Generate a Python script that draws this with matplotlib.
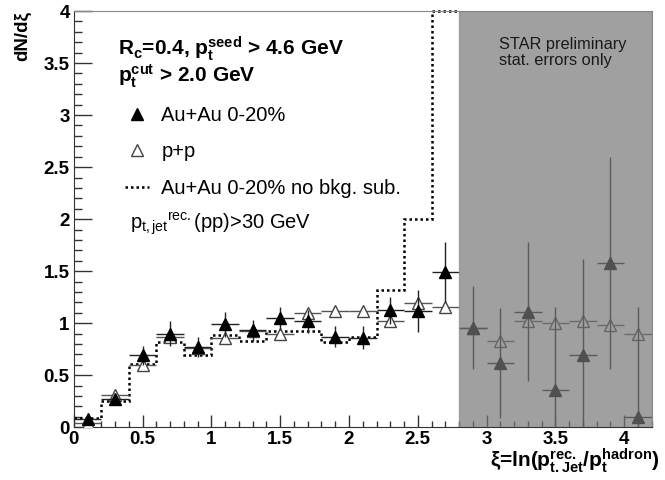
import numpy as np
import matplotlib.pyplot as plt
from matplotlib.ticker import MultipleLocator, FuncFormatter
from matplotlib.lines import Line2D

plt.rcParams['font.family'] = ['Liberation Sans', 'DejaVu Sans']
plt.rcParams['mathtext.fontset'] = 'custom'
plt.rcParams['mathtext.rm'] = 'Liberation Sans'
plt.rcParams['mathtext.bf'] = 'Liberation Sans:bold'
plt.rcParams['mathtext.it'] = 'Liberation Sans:italic'

# xi bin centres and half width
xi = [0.1, 0.3, 0.5, 0.7, 0.9, 1.1, 1.3, 1.5, 1.7, 1.9, 2.1,
      2.3, 2.5, 2.7, 2.9, 3.1, 3.3, 3.5, 3.7, 3.9, 4.1]
bin_half = 0.1

# Au+Au 0-20% (bkg. subtracted)
auau = [0.08, 0.27, 0.69, 0.90, 0.77, 0.99, 0.93, 1.045, 1.02, 0.87, 0.86,
        1.125, 1.115, 1.49, 0.955, 0.62, 1.11, 0.36, 0.69, 1.58, 0.10]
auau_err = [0.04, 0.04, 0.09, 0.12, 0.10, 0.12, 0.10, 0.11, 0.11, 0.10, 0.11,
            0.13, 0.20, 0.29, 0.40, 0.53, 0.67, 0.80, 0.93, 1.02, 1.06]

# p+p reference
pp = [0.04, 0.31, 0.60, 0.87, 0.76, 0.86, 0.92, 0.90, 1.10, 1.12, 1.12,
      1.02, 1.195, 1.16, 0.95, 0.83, 1.02, 1.00, 1.02, 0.98, 0.895]
pp_err = [0.02, 0.03, 0.03, 0.03, 0.03, 0.03, 0.03, 0.03, 0.03, 0.03, 0.03,
          0.03, 0.04, 0.04, 0.05, 0.05, 0.05, 0.05, 0.05, 0.05, 0.05]

# Au+Au no bkg. sub. histogram (last bin goes off scale)
nobkg_edges = [0.0, 0.2, 0.4, 0.6, 0.8, 1.0, 1.2, 1.4, 1.6, 1.8, 2.0,
               2.2, 2.4, 2.6, 2.8]
nobkg = [0.09, 0.25, 0.61, 0.82, 0.69, 0.885, 0.83, 0.92, 0.92, 0.82,
         0.87, 1.32, 2.0, 4.6]

shade_from, shade_to = 2.8, 4.2
y_max = 4

fig = plt.figure(figsize=(6.65, 4.8), dpi=100)
ax = fig.add_axes([0.111, 0.110, 0.869, 0.867])

# ROOT draws off-scale bins on the frame
ax.stairs(np.minimum(nobkg, y_max), nobkg_edges, baseline=None,
          color='black', linestyle=(0, (1, 1.2)), linewidth=1.8, zorder=2,
          clip_on=False)

ax.errorbar(xi, pp, xerr=bin_half, yerr=pp_err, fmt='^', ms=8.5,
            mfc='white', mec='#444444', mew=1.0, ecolor='#555555',
            elinewidth=1.0, capsize=0, zorder=3)
ax.errorbar(xi, auau, xerr=bin_half, yerr=auau_err, fmt='^', ms=8.5,
            color='black', ecolor='#222222', elinewidth=1.0, capsize=0,
            zorder=4)

# preliminary region shading on top of the points
ax.axvspan(shade_from, shade_to, facecolor='#757575', alpha=0.69,
           edgecolor='#888888', lw=1, zorder=5)

ax.set_xlim(0, 4.2)
ax.set_ylim(0, y_max)
ax.xaxis.set_major_locator(MultipleLocator(0.5))
ax.xaxis.set_minor_locator(MultipleLocator(0.1))
ax.yaxis.set_major_locator(MultipleLocator(0.5))
ax.yaxis.set_minor_locator(MultipleLocator(0.1))
fmt = FuncFormatter(lambda v, p: '%g' % v)
ax.xaxis.set_major_formatter(fmt)
ax.yaxis.set_major_formatter(fmt)
ax.tick_params(which='both', direction='in', top=False, right=False,
               color='#333333', width=1.0)
ax.tick_params(axis='y', which='major', length=13, pad=3)
ax.tick_params(axis='y', which='minor', length=6)
ax.tick_params(axis='x', which='major', length=8.5, pad=2.5)
ax.tick_params(axis='x', which='minor', length=4.5)
for lab in ax.get_xticklabels() + ax.get_yticklabels():
    lab.set_fontsize(13.5)
    lab.set_fontweight('bold')
for side in ['left', 'bottom']:
    ax.spines[side].set_color('#333333')
for side in ['top', 'right']:
    ax.spines[side].set_color('#888888')

# axis titles
fig.text(23 / 665, 1 - 11 / 480, 'dN/dξ', rotation=90, ha='center',
         va='top', fontsize=13.5, fontweight='bold')
fig.text(660 / 665, 1 - 467 / 480,
         r'ξ=ln($\mathbf{p^{rec.}_{t.Jet}}$/$\mathbf{p^{hadron}_{t}}$)',
         ha='right', va='baseline', fontsize=15, fontweight='bold')

# cut annotations
fig.text(118 / 665, 1 - 55 / 480,
         r'$\mathbf{R_{c}}$=0.4, $\mathbf{p_{t}^{seed}}$ > 4.6 GeV',
         ha='left', va='baseline', fontsize=15, fontweight='bold')
fig.text(118 / 665, 1 - 82 / 480, r'$\mathbf{p_{t}^{cut}}$ > 2.0 GeV',
         ha='left', va='baseline', fontsize=15, fontweight='bold')
fig.text(130 / 665, 1 - 229 / 480,
         r'p$_{\mathrm{t,jet}}$$^{\mathrm{rec.}}$(pp)>30 GeV',
         ha='left', va='baseline', fontsize=14.5)

# legend
handles = [
    Line2D([], [], ls='none', marker='^', ms=8.5, color='black'),
    Line2D([], [], ls='none', marker='^', ms=8.5, mfc='white',
           mec='#444444'),
    Line2D([], [], color='black', linestyle=(0, (1, 1.2)), lw=1.8),
]
labels = ['Au+Au 0-20%', 'p+p', 'Au+Au 0-20% no bkg. sub.']
ax.legend(handles, labels, loc='upper left',
          bbox_to_anchor=(125 / 665, 1 - 106 / 480),
          bbox_transform=fig.transFigure, frameon=False, fontsize=14.5,
          handlelength=1.2, handletextpad=0.6, labelspacing=0.86,
          borderpad=0, borderaxespad=0)

ax.text(0.736, 0.937, 'STAR preliminary\nstat. errors only',
        transform=ax.transAxes, ha='left', va='top', fontsize=11.8,
        linespacing=1.1, color='#1a1a1a', zorder=6)

fig.savefig('out.png', dpi=100)
